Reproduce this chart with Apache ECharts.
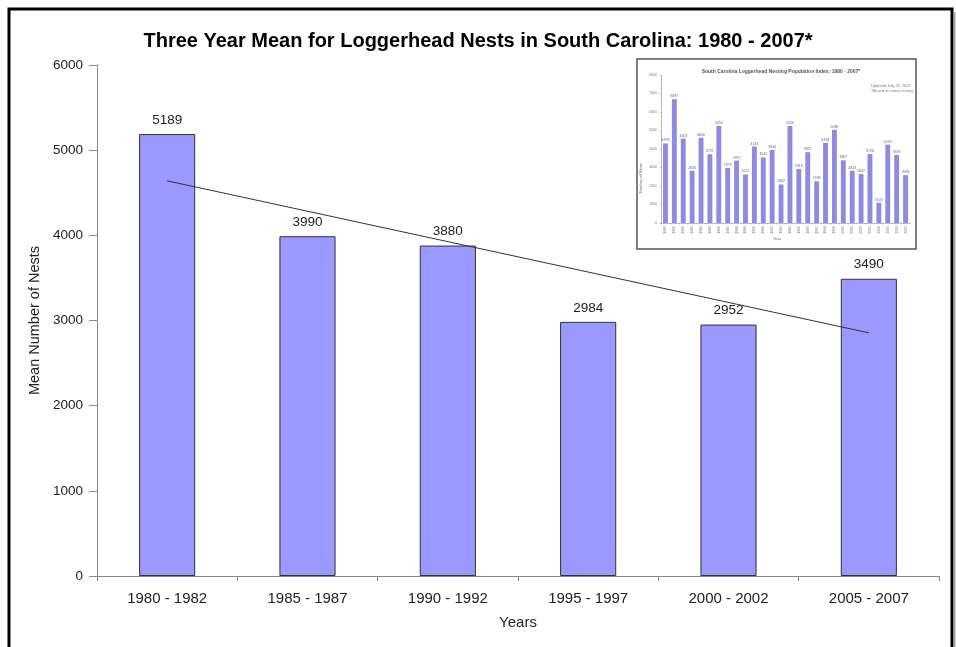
<!DOCTYPE html>
<html>
<head>
<meta charset="utf-8">
<script src="https://cdn.jsdelivr.net/npm/echarts@6/dist/echarts.min.js"></script>
<style>
html,body{margin:0;padding:0;background:#fff;}
#c{width:956px;height:647px;}
</style>
</head>
<body>
<div id="c"></div>
<script>
// Main chart data
var categories = ['1980 - 1982','1985 - 1987','1990 - 1992','1995 - 1997','2000 - 2002','2005 - 2007'];
var meanNests = [5189, 3990, 3880, 2984, 2952, 3490];
// Trendline end values (first and last category)
var trendValues = [4640, null, null, null, null, 2855];
var yTicks = [0, 1000, 2000, 3000, 4000, 5000, 6000];

// Inset chart data (annual nest counts)
var insetYears = ['1980','1981','1982','1983','1984','1985','1986','1987','1988','1989','1990','1991','1992','1993','1994','1995','1996','1997','1998','1999','2000','2001','2002','2003','2004','2005','2006','2007'];
var insetNests = [4299, 6697, 4563, 2826, 4606, 3717, 5250, 2979, 3373, 2622, 4133, 3542, 3944, 2082, 5250, 2918, 3827, 2249, 4334, 5038, 3387, 2826, 2647, 3726, 1103, 4232, 3679, 2588];
var insetTicks = [0, 1000, 2000, 3000, 4000, 5000, 6000, 7000, 8000];

var FONT = 'Liberation Sans, Arial, sans-serif';
var plain = function (v) { return String(v); };
var chart = echarts.init(document.getElementById('c'), null, {renderer: 'canvas'});

chart.setOption({
  animation: false,
  backgroundColor: '#ffffff',
  title: [{
    text: 'Three Year Mean for Loggerhead Nests in South Carolina: 1980 - 2007*',
    left: 'center',
    top: 26,
    textStyle: {fontFamily: FONT, fontWeight: 'bold', fontSize: 20, color: '#000'}
  }, {
    text: 'South Carolina Loggerhead Nesting Population Index: 1980 - 2007*',
    left: 776, textAlign: 'center',
    top: 64,
    textStyle: {fontFamily: FONT, fontWeight: 'bold', fontSize: 5, color: '#555'}
  }, {
    text: 'Updated July 25, 2007\n*Based on aerial survey',
    left: 866,
    top: 78,
    textStyle: {fontFamily: FONT, fontWeight: 'normal', fontSize: 4, lineHeight: 5, color: '#777'}
  }],
  graphic: [
    {type: 'rect', z: -10, shape: {x: 9, y: 9, width: 943, height: 660}, style: {fill: 'none', stroke: '#000', lineWidth: 3}},
    {type: 'rect', z: -10, shape: {x: 953, y: 12, width: 3, height: 640},
      style: {fill: new echarts.graphic.LinearGradient(0, 0, 1, 0, [{offset: 0, color: '#777'}, {offset: 1, color: '#ddd'}])}},
    {type: 'rect', z: 0, shape: {x: 637, y: 59, width: 279, height: 190}, style: {fill: '#fff', stroke: '#555', lineWidth: 1.5}},
    {type: 'text', z: 5, left: 773, top: 237, style: {text: 'Year', font: '4px ' + FONT, fill: '#666'}},
    {type: 'text', z: 5, left: 639, top: 163, rotation: Math.PI / 2, style: {text: 'Number of Nests', font: '4px ' + FONT, fill: '#666', textAlign: 'center'}}
  ],
  grid: [
    {left: 97, right: 17, top: 65, bottom: 71, containLabel: false},
    {left: 661, right: 46, top: 75, bottom: 424, containLabel: false}
  ],
  xAxis: [{
    gridIndex: 0,
    type: 'category',
    data: categories,
    name: 'Years',
    nameLocation: 'middle',
    nameGap: 39,
    nameTextStyle: {fontFamily: FONT, fontSize: 15, color: '#222'},
    axisLine: {lineStyle: {color: '#888', width: 1}},
    axisTick: {show: true, inside: false, length: 5, alignWithLabel: false, lineStyle: {color: '#888'}},
    axisLabel: {fontFamily: FONT, fontSize: 15, color: '#222', margin: 15, interval: 0}
  }, {
    gridIndex: 1,
    type: 'category',
    data: insetYears,
    axisLine: {lineStyle: {color: '#999', width: 0.7}},
    axisTick: {show: true, length: 1.5, lineStyle: {color: '#999', width: 0.5}},
    axisLabel: {fontFamily: FONT, fontSize: 3.5, color: '#777', rotate: 90, margin: 3, interval: 0}
  }],
  yAxis: [{
    gridIndex: 0,
    type: 'value',
    min: yTicks[0],
    max: yTicks[yTicks.length - 1],
    interval: 1000,
    name: 'Mean Number of Nests',
    nameLocation: 'middle',
    nameGap: 50,
    nameRotate: 90,
    nameTextStyle: {fontFamily: FONT, fontSize: 14.5, color: '#222'},
    axisLine: {show: true, lineStyle: {color: '#888', width: 1}},
    axisTick: {show: true, length: 8, lineStyle: {color: '#888'}},
    axisLabel: {fontFamily: FONT, fontSize: 13.5, color: '#222', margin: 14, formatter: plain},
    splitLine: {show: false}
  }, {
    gridIndex: 1,
    type: 'value',
    min: insetTicks[0], max: insetTicks[insetTicks.length - 1], interval: 1000,
    axisLine: {show: true, lineStyle: {color: '#999', width: 0.7}},
    axisTick: {show: true, length: 1.5, lineStyle: {color: '#999', width: 0.5}},
    axisLabel: {fontFamily: FONT, fontSize: 3.5, color: '#777', margin: 4, formatter: plain},
    splitLine: {show: false}
  }],
  series: [{
    type: 'bar',
    xAxisIndex: 0, yAxisIndex: 0,
    data: meanNests,
    barWidth: '40%',
    itemStyle: {color: '#9999FF', borderColor: '#333333', borderWidth: 1},
    label: {show: true, position: 'top', distance: 7, fontFamily: FONT, fontSize: 13.5, color: '#222'}
  }, {
    type: 'line',
    xAxisIndex: 0, yAxisIndex: 0,
    data: trendValues,
    connectNulls: true,
    symbol: 'none',
    lineStyle: {color: '#333', width: 1},
    z: 4
  }, {
    type: 'bar',
    xAxisIndex: 1, yAxisIndex: 1,
    data: insetNests,
    barWidth: '55%',
    itemStyle: {color: '#8c8ce0'},
    label: {show: true, position: 'top', distance: 1, fontFamily: FONT, fontSize: 3.5, color: '#666'},
    z: 5
  }]
});
</script>
</body>
</html>
